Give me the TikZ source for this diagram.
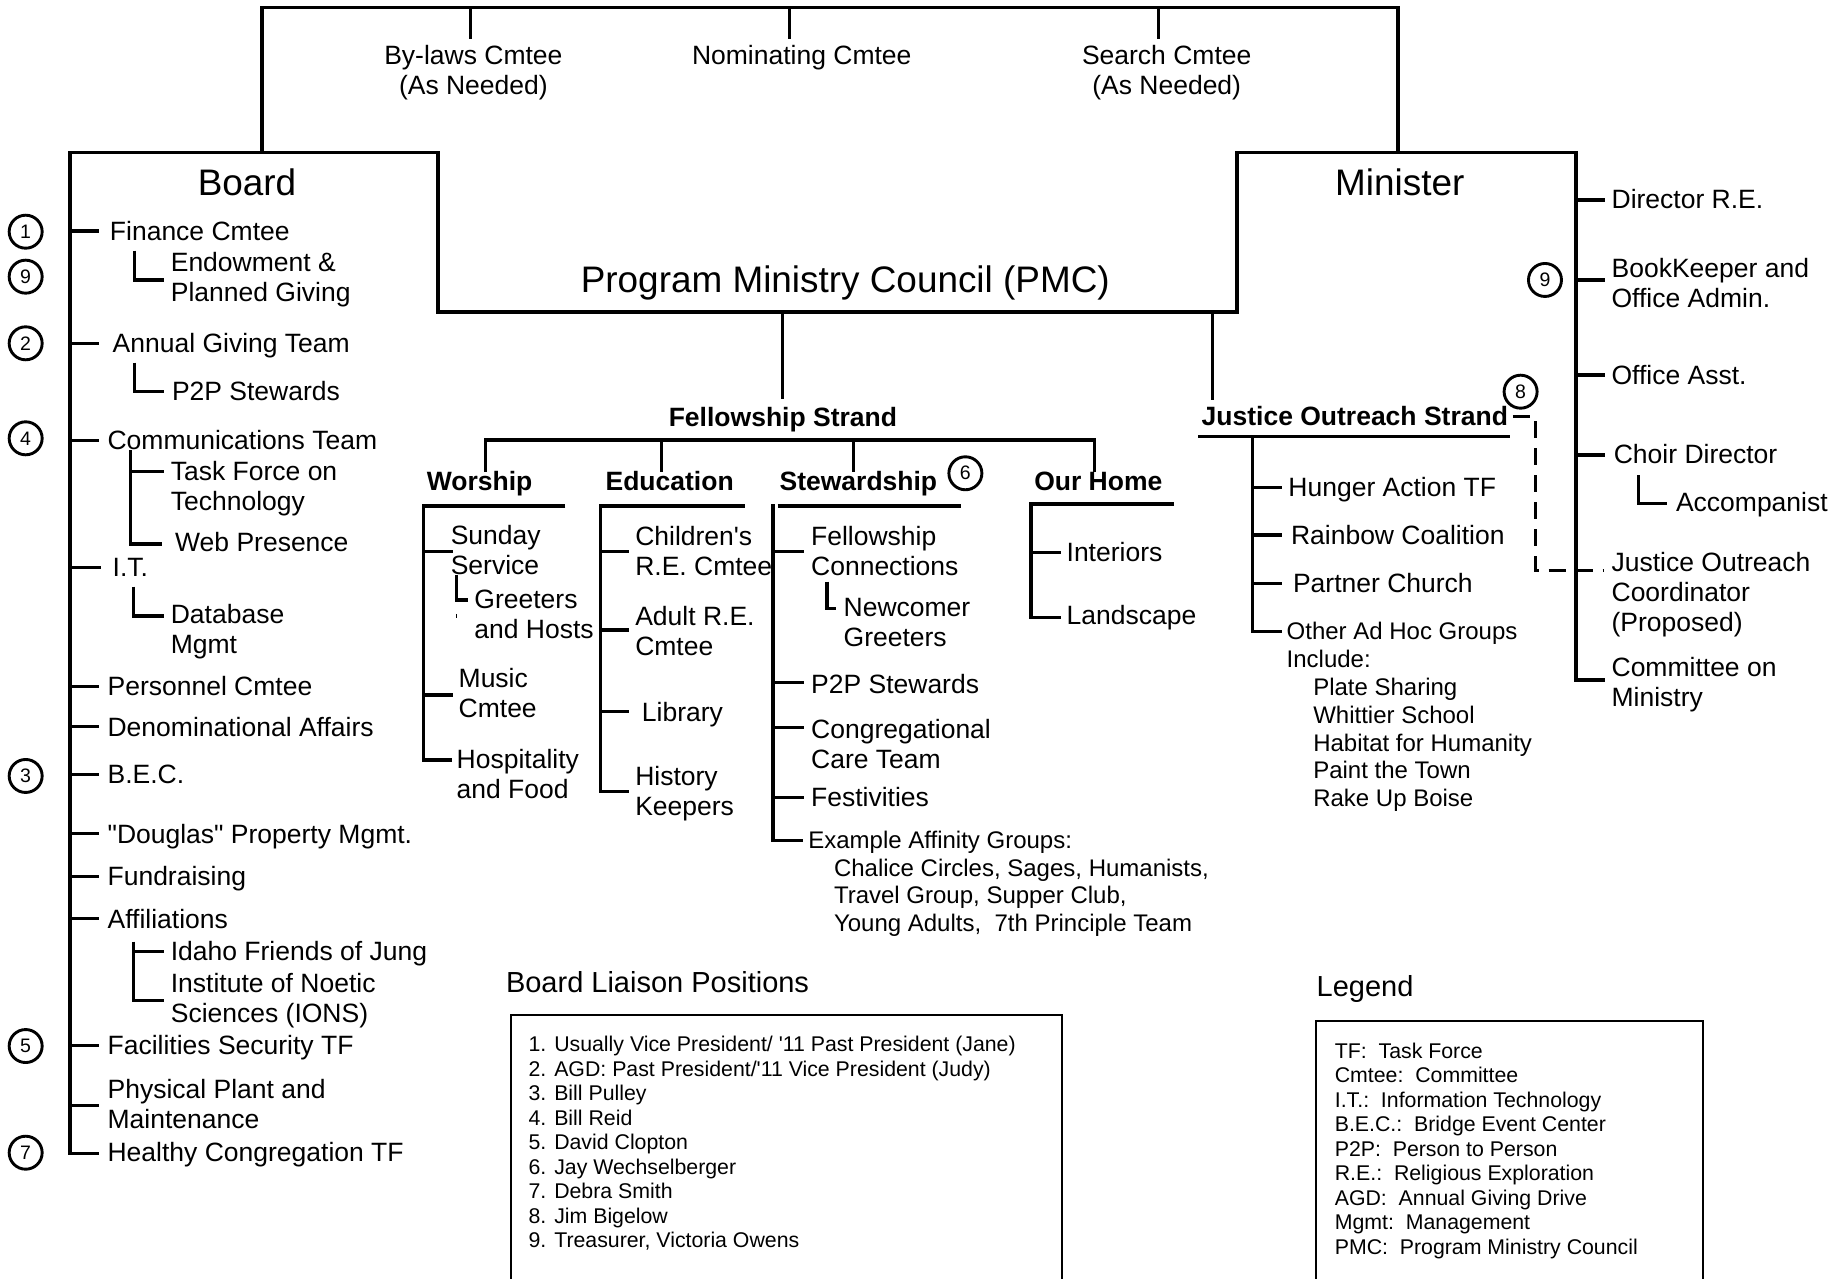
\documentclass[tikz,border=0pt]{standalone}
\usepackage{fontspec}
\setmainfont{Liberation Sans}[Ligatures=TeXOff]
\newcommand\fItem{\fontsize{26.5pt}{30pt}\selectfont}
\newcommand\fTitle{\fontsize{36.9pt}{42pt}\selectfont}
\newcommand\fSmall{\fontsize{24pt}{27.8pt}\selectfont}
\newcommand\fList{\fontsize{21.3pt}{24.5pt}\selectfont}
\newcommand\fHead{\fontsize{29pt}{33pt}\selectfont}
\newcommand\fCirc{\fontsize{19.5pt}{21pt}\selectfont}
\newcommand\ml[1]{\begin{tabular}[t]{@{}l@{}}#1\end{tabular}}
\newcommand\mlc[1]{\begin{tabular}[t]{@{}c@{}}#1\end{tabular}}
\begin{document}
\begin{tikzpicture}[x=1.1773pt, y=-1.1773pt,
 ln/.style={line width=3.3pt},
 thinln/.style={line width=2.3pt},
 boxln/.style={line width=2pt},
 dashln/.style={line width=3.1pt, dash pattern=on 17pt off 10pt},
 itm/.style={anchor=west, inner sep=0pt, outer sep=0pt, text height=18.97pt, text depth=0pt, font=\fItem},
 itmc/.style={itm, anchor=center},
 bld/.style={itm, font=\fItem\bfseries},
 sml/.style={itm, text height=17.18pt, font=\fSmall},
 lst/.style={itm, text height=15.25pt, font=\fList},
 hd/.style={itm, text height=20.76pt, font=\fHead},
 ttl/.style={itmc, text height=26.42pt, font=\fTitle},
 num/.style={circle, draw, line width=2.9pt, minimum size=33pt, inner sep=0pt, font=\fCirc}]
\fill[white] (0,0) rectangle (1568,1086);
\useasboundingbox (0,0) rectangle (1568,1086);

% ---------- top committees ----------
\coordinate (tl) at (222.5,6.5);
\coordinate (tr) at (1187.5,6.5);
\node[itmc] (bylaws) at (402.1,47.1) {\mlc{By-laws Cmtee\\(As Needed)}};
\node[itmc] (nom) at (681,47.1) {Nominating Cmtee};
\node[itmc] (search) at (991,47.1) {\mlc{Search Cmtee\\(As Needed)}};
\draw[ln] (222.5,129.4) -- (tl) -- (tr) -- (1187.5,129.4);
\draw[ln] (399.5,6.5) -- (399.5,33);
\draw[ln] (670.5,6.5) -- (670.5,33);
\draw[ln] (983.9,6.5) -- (983.9,33);

% ---------- main frame ----------
\coordinate (spine) at (59.5,0);
\coordinate (tkend) at (84,0);
\draw[ln] (84,979.6) -- (59.5,979.6) -- (59.5,129.4) -- (372,129.4) -- (372,265) -- (1050.7,265)
  -- (1050.7,129.4) -- (1338.7,129.4) -- (1338.7,577.6) -- (1363.3,577.6);
\node[ttl] (board) at (209.8,154.5) {Board};
\node[ttl] (minister) at (1189,154.5) {Minister};
\node[ttl] (pmc) at (718,237.5) {Program Ministry Council (PMC)};

% ---------- board items ----------
\node[itm] (fin) at (93.4,196.3) {Finance Cmtee};
\node[itm] (endow) at (145.1,222.7) {\ml{Endowment \&\\Planned Giving}};
\node[itm] (agt) at (95.7,291.5) {Annual Giving Team};
\node[itm] (p2pa) at (146.1,331.7) {P2P Stewards};
\node[itm] (comm) at (91.4,374.1) {Communications Team};
\node[itm] (tfot) at (145.1,400.2) {\ml{Task Force on\\Technology}};
\node[itm] (web) at (148.8,460.5) {Web Presence};
\node[itm] (it) at (95.7,481.8) {I.T.};
\node[itm] (db) at (145.1,521.9) {\ml{Database\\Mgmt}};
\node[itm] (pers) at (91.4,583.1) {Personnel Cmtee};
\node[itm] (denom) at (91.4,617.1) {Denominational Affairs};
\node[itm] (bec) at (91.4,657.8) {B.E.C.};
\node[itm] (doug) at (91.4,708) {"Douglas" Property Mgmt.};
\node[itm] (fund) at (91.4,744.5) {Fundraising};
\node[itm] (affil) at (91.4,780.4) {Affiliations};
\node[itm] (jung) at (145.1,808) {Idaho Friends of Jung};
\node[itm] (ions) at (145.1,834.8) {\ml{Institute of Noetic\\Sciences (IONS)}};
\node[itm] (fac) at (91.4,888) {Facilities Security TF};
\node[itm] (phys) at (91.4,924.8) {\ml{Physical Plant and\\Maintenance}};
\node[itm] (healthy) at (91.4,978.6) {Healthy Congregation TF};

\foreach \n in {fin,agt,comm,pers,denom,bec,doug,fund,affil,fac}
  \draw[ln] (\n.west -| spine) -- (\n.west -| tkend);
\draw[ln] (it.west -| spine) -- ++(26.1,0);
\draw[ln] (59.5,938.8) -- (84,938.8);
% sub brackets
\draw[ln] (114.2,212.9) -- (114.2,237.8) -- (139.4,237.8);
\draw[ln] (114.2,308) -- (114.2,332.7) -- (139.4,332.7);
\draw[ln] (110.8,382.2) -- (110.8,462) -- (137.6,462);
\draw[ln] (110.8,400.7) -- (139.4,400.7);
\draw[ln] (113.5,498.3) -- (113.5,523.2) -- (139.4,523.2);
\draw[ln] (113.5,799.9) -- (113.5,850) -- (139.4,850);
\draw[ln] (113.5,808.4) -- (139.4,808.4);

% liaison circles (board)
\node[num] (c1) at (21.8,196.8) {1};
\node[num] (c9) at (21.8,235) {9};
\node[num] (c2) at (21.8,291.6) {2};
\node[num] (c4) at (21.8,372.3) {4};
\node[num] (c3) at (21.8,659.1) {3};
\node[num] (c5) at (21.8,888.5) {5};
\node[num] (c7) at (21.8,979.1) {7};

% ---------- Fellowship strand ----------
\draw[ln] (664.7,265) -- (664.7,339);
\node[bld, anchor=center] (fs) at (665,354) {Fellowship Strand};
\draw[ln] (412.5,400.6) -- (412.5,373.7) -- (929.5,373.7) -- (929.5,400.6);
\draw[ln] (562,373.7) -- (562,400.6);
\draw[ln] (725,373.7) -- (725,400.6);
\node[bld] (wor) at (362.6,408.4) {Worship};
\node[bld] (edu) at (514.4,408.8) {Education};
\node[bld] (stew) at (662.2,408.8) {Stewardship};
\node[bld] (home) at (878.5,408.4) {Our Home};
\node[num] (c6) at (820,402) {6};

% Worship
\draw[ln] (480.3,429.8) -- (360,429.8) -- (360,645.5) -- (384,645.5);
\draw[ln] (360,468.6) -- (384.5,468.6);
\draw[ln] (360,590.3) -- (384.5,590.3);
\node[itm] (sun) at (382.9,454.8) {\ml{Sunday\\Service}};
\node[itm] (greet) at (403,508.6) {\ml{Greeters\\and Hosts}};
\node[itm] (music) at (389.6,575.7) {\ml{Music\\Cmtee}};
\node[itm] (hosp) at (387.9,644.5) {\ml{Hospitality\\and Food}};
\draw[ln] (387.9,488.4) -- (387.9,509.6) -- (397.3,509.6);
\draw[line width=1.5pt] (387.9,521.5) -- (387.9,525);

% Education
\draw[ln] (632.6,429.8) -- (510,429.8) -- (510,672.5) -- (534,672.5);
\draw[ln] (510,468.6) -- (534,468.6);
\draw[ln] (510,535.1) -- (534,535.1);
\draw[ln] (510,604.5) -- (534,604.5);
\node[itm] (child) at (539.6,455) {\ml{Children's\\R.E. Cmtee}};
\node[itm] (adult) at (539.6,523) {\ml{Adult R.E.\\Cmtee}};
\node[itm] (lib) at (545.3,605) {Library};
\node[itm] (hist) at (539.6,659) {\ml{History\\Keepers}};

% Stewardship
\draw[ln] (656.5,428.5) -- (656.5,714) -- (682.4,714);
\draw[ln] (660.5,429.8) -- (816,429.8);
\draw[ln] (656.5,468.6) -- (683,468.6);
\draw[ln] (656.5,580) -- (683,580);
\draw[ln] (656.5,618) -- (683,618);
\draw[ln] (656.5,677.5) -- (683,677.5);
\node[itm] (fc) at (689,455) {\ml{Fellowship\\Connections}};
\node[itm] (newc) at (716.6,516) {\ml{Newcomer\\Greeters}};
\draw[ln] (702.5,494) -- (702.5,517) -- (710.5,517);
\node[itm] (p2pb) at (689,581) {P2P Stewards};
\node[itm] (cong) at (689,619) {\ml{Congregational\\Care Team}};
\node[itm] (fest) at (689,677) {Festivities};
\node[sml] (ex) at (686.6,713.3) {\ml{Example Affinity Groups:\\\hspace*{25.7pt}Chalice Circles, Sages, Humanists,\\\hspace*{25.7pt}Travel Group, Supper Club,\\\hspace*{25.7pt}Young Adults,\ \ 7th Principle Team}};

% Our Home
\draw[ln] (997.2,428) -- (875.7,428) -- (875.7,524.3) -- (901.2,524.3);
\draw[ln] (875.7,469.2) -- (901.2,469.2);
\node[itm] (inter) at (906,469) {Interiors};
\node[itm] (land) at (906,522.8) {Landscape};

% ---------- Justice Outreach strand ----------
\draw[thinln] (1029.8,267) -- (1029.8,339.8);
\node[bld] (jos) at (1020.7,353) {Justice Outreach Strand};
\draw[ln] (1017.9,370.9) -- (1283,370.9);
\draw[ln] (1063.7,370.9) -- (1063.7,536.5) -- (1089.2,536.5);
\draw[ln] (1063.7,414) -- (1089.2,414);
\draw[ln] (1063.7,454.4) -- (1089.2,454.4);
\draw[ln] (1063.7,495.5) -- (1089.2,495.5);
\node[itm] (hunger) at (1094.4,413.8) {Hunger Action TF};
\node[itm] (rainbow) at (1096.6,454.3) {Rainbow Coalition};
\node[itm] (partner) at (1098.3,495.3) {Partner Church};
\node[sml] (other) at (1092.9,536.3) {\ml{Other Ad Hoc Groups\\Include:\\\hspace*{26.6pt}Plate Sharing\\\hspace*{26.6pt}Whittier School\\\hspace*{26.6pt}Habitat for Humanity\\\hspace*{26.6pt}Paint the Town\\\hspace*{26.6pt}Rake Up Boise}};
\node[num] (c8) at (1291.6,332.7) {8};
\draw[dashln] (1285,354) -- (1304,354) -- (1304,484.2) -- (1362,484.2);

% ---------- Minister staff ----------
\node[itm] (dre) at (1368.9,168.9) {Director R.E.};
\node[itm] (book) at (1368.9,227.5) {\ml{BookKeeper and\\Office Admin.}};
\node[itm] (oasst) at (1368.9,318.9) {Office Asst.};
\node[itm] (choir) at (1370.8,386) {Choir Director};
\node[itm] (acc) at (1423.6,426) {Accompanist};
\node[itm] (joc) at (1368.9,477.5) {\ml{Justice Outreach\\Coordinator\\(Proposed)}};
\node[itm] (com) at (1368.9,566.7) {\ml{Committee on\\Ministry}};
\draw[ln] (1338.7,169.9) -- (1363.3,169.9);
\draw[ln] (1338.7,237.8) -- (1363.3,237.8);
\draw[ln] (1338.7,318.5) -- (1363.3,318.5);
\draw[ln] (1338.7,386.5) -- (1363.3,386.5);
\draw[ln] (1391.5,403.5) -- (1391.5,427.5) -- (1416,427.5);
\node[num] (c9b) at (1312.3,237.8) {9};

% ---------- Board liaison positions ----------
\node[hd] (blp) at (429.8,834) {Board Liaison Positions};
\draw[boxln] (434,1086) -- (434,862.5) -- (902,862.5) -- (902,1086);
\node[lst] (liaisons) at (449,886.8) {\ml{1. Usually Vice President/ '11 Past President (Jane)\\
2. AGD: Past President/'11 Vice President (Judy)\\
3. Bill Pulley\\
4. Bill Reid\\
5. David Clopton\\
6. Jay Wechselberger\\
7. Debra Smith\\
8. Jim Bigelow\\
9. Treasurer, Victoria Owens}};

% ---------- Legend ----------
\node[hd] (leg) at (1118.4,837.8) {Legend};
\draw[boxln] (1118.2,1086) -- (1118.2,867.2) -- (1446.7,867.2) -- (1446.7,1086);
\node[lst] (legtext) at (1133.8,892.4) {\ml{TF:\ \ Task Force\\
Cmtee:\ \ Committee\\
I.T.:\ \ Information Technology\\
B.E.C.:\ \ Bridge Event Center\\
P2P:\ \ Person to Person\\
R.E.:\ \ Religious Exploration\\
AGD:\ \ Annual Giving Drive\\
Mgmt:\ \ Management\\
PMC:\ \ Program Ministry Council}};
\end{tikzpicture}
\end{document}
